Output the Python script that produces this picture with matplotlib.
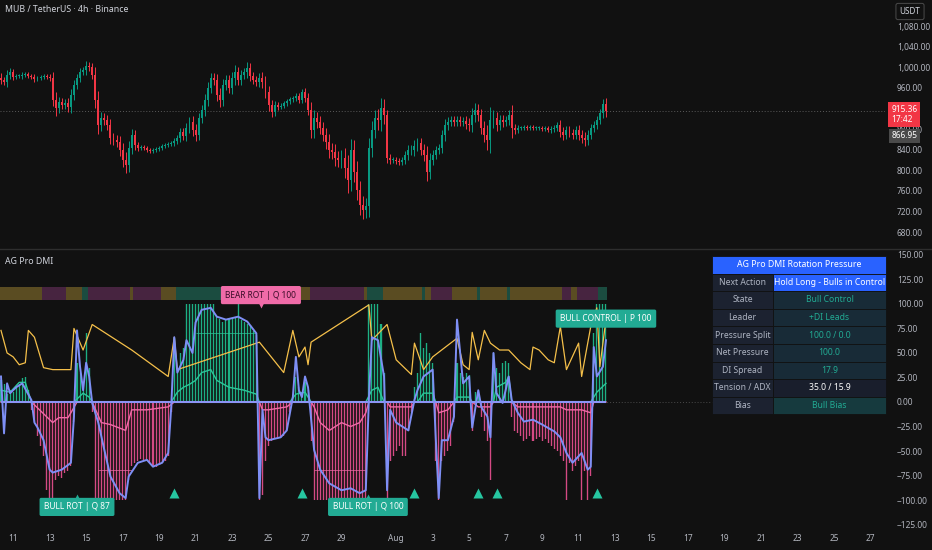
import matplotlib
matplotlib.use("Agg")
import matplotlib.pyplot as plt
from matplotlib.patches import Rectangle
import numpy as np

W, H = 932, 550
BG = '#111111'
UP, DN = '#089981', '#f23645'
TEAL = '#22ab94'
PINK = '#e8508f'

# ---- price pane data (4h closes, one per bar) ----
closes = [
    975, 971, 985, 991, 981, 983, 983, 985, 987, 983,
    981, 977, 979, 981, 983, 981, 979, 936, 921, 932,
    927, 930, 923, 946, 965, 979, 991, 995, 1002, 1000,
    985, 936, 888, 901, 897, 888, 862, 859, 855, 839,
    820, 810, 843, 868, 849, 843, 845, 843, 839, 837,
    839, 841, 843, 847, 849, 851, 853, 857, 862, 874,
    866, 882, 894, 878, 868, 901, 917, 936, 960, 979,
    975, 946, 936, 965, 975, 960, 979, 991, 975, 985,
    991, 998, 983, 975, 971, 979, 971, 952, 927, 913,
    927, 923, 925, 930, 934, 938, 940, 944, 936, 952,
    940, 917, 878, 901, 894, 882, 868, 855, 839, 835,
    824, 820, 824, 804, 781, 839, 797, 762, 732, 723,
    730, 843, 878, 901, 897, 921, 907, 824, 820, 820,
    818, 816, 820, 830, 839, 839, 847, 853, 839, 830,
    797, 820, 830, 839, 843, 868, 888, 894, 897, 894,
    897, 894, 896, 890, 888, 907, 917, 907, 882, 868,
    859, 897, 901, 888, 897, 894, 897, 907, 882, 878,
    882, 882, 884, 882, 884, 882, 882, 882, 880, 882,
    878, 880, 882, 888, 874, 868, 878, 872, 868, 878,
    868, 862, 859, 868, 882, 888, 897, 911, 929, 915.36,
]
first_open = 980
wicks = [
    8, 6, 10, 8, 5, 4, 4, 5, 4, 4,
    4, 5, 4, 4, 4, 4, 5, 12, 15, 10,
    8, 8, 10, 12, 10, 8, 8, 6, 10, 8,
    8, 15, 18, 12, 10, 10, 12, 10, 10, 12,
    14, 15, 14, 12, 10, 6, 4, 4, 4, 4,
    4, 4, 4, 4, 4, 4, 4, 5, 6, 8,
    8, 10, 10, 12, 12, 10, 10, 12, 12, 10,
    10, 12, 14, 12, 10, 10, 12, 14, 10, 10,
    8, 12, 10, 8, 8, 10, 12, 12, 12, 10,
    8, 6, 5, 5, 5, 5, 5, 5, 6, 6,
    8, 10, 15, 15, 12, 12, 12, 14, 15, 14,
    16, 14, 15, 20, 25, 22, 20, 20, 18, 18,
    16, 20, 18, 16, 18, 20, 18, 10, 8, 6,
    6, 6, 6, 8, 10, 10, 12, 10, 10, 12,
    18, 14, 10, 8, 8, 10, 12, 10, 8, 8,
    8, 8, 8, 10, 12, 14, 14, 12, 12, 14,
    20, 25, 15, 12, 10, 10, 8, 10, 20, 8,
    5, 4, 4, 4, 4, 4, 4, 4, 4, 4,
    4, 5, 5, 6, 10, 10, 8, 8, 8, 8,
    10, 10, 12, 10, 8, 8, 8, 8, 10, 12,
]
other_price = 866.95
# 920 sits under the live price tag, as on the reference
price_ticks = [680, 720, 760, 800, 840, 880, 960, 1000, 1040, 1080]

# ---- indicator data ----
hist = [
    22, 18, 8, 12, 10, 14, 18, 24, 25, 12,
    -8, -20, -35, -45, -55, -90, -100, -98, -80, -75,
    -78, -72, -70, -65, -20, 40, 30, 20, 70, 35,
    -10, -100, -100, -100, -100, -100, -100, -100, -100, -100,
    -100, -100, -80, -65, -62, -60, -58, -60, -58, -62,
    -65, -66, -64, -62, -60, -55, -10, 65, 35, 50,
    55, 100, 100, 100, 100, 100, 100, 100, 100, 100,
    100, 88, 85, 82, 84, 86, 86, 87, 100, 84,
    82, 80, 78, 72, 68, -100, -95, -60, -45, -40,
    -38, -38, -36, -35, -30, -10, 5, 25, 15, 10,
    20, 12, -40, -100, -100, -100, -100, -100, -100, -100,
    -100, -100, -100, -100, -100, -100, -100, -100, -100, -100,
    -100, 100, 100, 100, 100, 80, 30, -100, -60, -55,
    -50, -45, -55, -55, -30, -10, 15, 30, 70, 55,
    60, 50, 40, -60, -100, -60, -55, -50, -45, -20,
    40, 30, 25, 30, 28, -30, 10, 8, -15, -30,
    -40, -80, 50, 35, 30, 40, 42, 40, -15, -30,
    -32, -35, -40, -38, -35, -40, -38, -36, -40, -38,
    -42, -45, -48, -50, -55, -60, -100, -62, -70, -65,
    -60, -100, -70, -100, -75, 70, 100, 100, 100, 100,
]

blue_pts = [(0, 26), (1, -32), (2, 19), (3, 9), (5, 15), (7, 19), (10, 2), (11, -21), (12, -26),
            (14, -39), (16, -69), (17, -72), (20, -69), (23, -62), (24, -15), (25, 73), (26, 36),
            (27, 12), (28, 40), (29, 26), (30, -1), (32, -21), (34, -49), (36, -76), (39, -93),
            (41, -98), (42, -76), (45, -62), (48, -59), (50, -66), (53, -62), (55, -52), (56, -5),
            (57, 66), (58, 30), (60, 43), (61, 63), (63, 50), (64, 81), (66, 94), (69, 96), (71, 87),
            (74, 84), (78, 87), (81, 82), (84, 70), (85, -98), (86, -8), (87, -36), (88, -39),
            (92, -36), (94, -29), (96, 5), (97, 46), (98, 12), (99, 5), (100, 26), (101, 15),
            (103, -49), (105, -69), (108, -83), (112, -90), (115, -88), (118, -93), (120, -90),
            (121, 2), (122, 66), (124, 63), (126, 26), (127, -90), (128, -8), (130, -21), (134, -29),
            (136, 2), (137, 12), (139, 26), (142, 33), (143, -36), (144, -98), (145, -39), (147, -39),
            (149, -15), (150, 84), (152, 19), (154, 26), (155, -26), (157, 12), (158, -5), (160, -15),
            (161, -36), (162, 50), (163, 9), (165, -1), (166, 12), (167, 26), (168, 2), (170, -11),
            (172, -20), (175, -18), (178, -23), (182, -30), (184, -36), (186, -52), (188, -62),
            (191, -52), (193, -69), (194, -66), (195, 56), (196, 26), (198, 36), (199, 63)]

yellow_pts = [(0, 73), (2, 50), (4, 46), (6, 38), (8, 40), (9, 73), (11, 66), (14, 35), (17, 33),
              (23, 33), (24, 75), (27, 53), (30, 79), (43, 53), (55, 26), (57, 66), (58, 33), (85, 61),
              (93, 30), (96, 73), (98, 46), (100, 56), (101, 38), (102, 61), (121, 99), (122, 63),
              (127, 79), (130, 43), (135, 28), (136, 60), (139, 33), (142, 46), (150, 65), (152, 38),
              (154, 33), (155, 71), (157, 43), (159, 73), (161, 60), (164, 53), (167, 53), (171, 40),
              (174, 33), (175, 56), (177, 53), (180, 43), (182, 40), (184, 77), (186, 33), (190, 60),
              (191, 26), (194, 77), (196, 96), (197, 36), (199, 84)]

green_pts = [(0, 12), (3, 10), (6, 20), (8, 20), (9, 10), (10, 0), (24, 0), (27, 9), (29, 5), (30, 0),
             (56, 0), (58, 10), (60, 15), (62, 18), (64, 22), (66, 30), (69, 33), (71, 22), (75, 15),
             (80, 12), (84, 8), (85, 0), (95, 0), (97, 8), (100, 10), (102, 0), (120, 0), (122, 12),
             (124, 15), (126, 0), (137, 0), (139, 9), (142, 9), (143, 0), (149, 0), (150, 5), (154, 5),
             (155, 0), (162, 0), (163, 15), (166, 20), (167, 26), (168, 0), (194, 0), (196, 10), (199, 19)]

pink_pts = [(0, 0), (10, 0), (17, -21), (19, -16), (22, -16), (23, -11), (25, 0), (30, 0), (33, -21),
            (36, -23), (41, -29), (43, -8), (48, -8), (55, -5), (57, 0), (85, 0), (86, -8), (88, -8),
            (94, -5), (96, 0), (102, 0), (103, -5), (105, -21), (108, -29), (112, -21), (115, -25),
            (118, -21), (120, -11), (121, 0), (127, 0), (128, -5), (135, -5), (136, 0), (143, 0),
            (144, -11), (147, -8), (149, 0), (155, 0), (157, -5), (161, -5), (162, 0), (168, 0),
            (170, -5), (184, -5), (186, -8), (191, -8), (194, -11), (195, 0), (199, 0)]

# regime band: start bar of each segment and its state (n=neutral, b=bear, u=bull)
band_start = [0, 14, 22, 27, 29, 43, 44, 53, 58, 74, 102, 120, 121, 126, 139, 140, 142, 149,
              157, 158, 167, 168, 185, 188, 190, 197]
band_state = ['n', 'b', 'n', 'u', 'b', 'n', 'b', 'n', 'u', 'n', 'b', 'n', 'u', 'n', 'u', 'n', 'b', 'n',
              'u', 'n', 'u', 'n', 'b', 'n', 'b', 'u']
band_lo, band_hi = 104, 117

levels = [(32, 43, -69, 'b'), (103, 120, -69, 'b'), (64, 84, 70, 'u')]
triangle_bars = [57, 99, 136, 157, 163, 196]
triangle_val = -93

labels = [
    # text, bar, value, kind, pointer
    ('BEAR ROT | Q 100', 85.5, 109, 'b', 'down'),
    ('BULL ROT | Q 87', 25, -107, 'u', 'up'),
    ('BULL ROT | Q 100', 120.7, -107, 'u', 'up'),
    ('BULL CONTROL | P 100', 199, 85, 'u', None),
]

ind_ticks = [-125, -100, -75, -50, -25, 0, 25, 50, 75, 100, 125, 150]

tick_days = [0, 2, 4, 6, 8, 10, 12, 14, 16, 18, 21, 23, 25, 27, 29, 31, 33, 35, 37, 39, 41, 43, 45, 47]
tick_labels = ['11', '13', '15', '17', '19', '21', '23', '25', '27', '29', 'Aug', '3', '5', '7', '9',
               '11', '13', '15', '17', '19', '21', '23', '25', '27']

table_title = 'AG Pro DMI Rotation Pressure'
table_keys = ['Next Action', 'State', 'Leader', 'Pressure Split', 'Net Pressure', 'DI Spread',
              'Tension / ADX', 'Bias']
table_vals = ['Hold Long - Bulls in Control', 'Bull Control', '+DI Leads', '100.0 / 0.0', '100.0',
              '17.9', '35.0 / 15.9', 'Bull Bias']

# ---------------------------------------------------------------
plt.rcParams['font.family'] = ['Noto Sans', 'DejaVu Sans']
fig = plt.figure(figsize=(W / 100, H / 100), dpi=100, facecolor=BG)


def fx(px):
    return px / W


def fy(py):
    return 1 - py / H


PLOT_R = 885
ax_p = fig.add_axes([0, fy(248), fx(PLOT_R), 248 / H], facecolor=BG)
ax_i = fig.add_axes([0, fy(528), fx(PLOT_R), (528 - 249) / H], facecolor=BG)

n = len(closes)
x = np.arange(n)
first_bar_px, bar_px = 1.0, 3.04
xlim = (-first_bar_px / bar_px, (PLOT_R - first_bar_px) / bar_px)

for ax in (ax_p, ax_i):
    ax.set_xlim(*xlim)
    for s in ax.spines.values():
        s.set_visible(False)
    ax.yaxis.tick_right()
    ax.tick_params(axis='y', length=0, pad=8.6, labelsize=6, labelcolor='#b2b5be')
    ax.tick_params(axis='x', length=0)

# candles
c = np.array(closes, dtype=float)
o = np.concatenate([[first_open], c[:-1]])
wk = np.array(wicks, dtype=float)
hi = np.maximum(o, c) + wk
lo = np.minimum(o, c) - wk
col = np.where(c >= o, UP, DN)
ax_p.vlines(x, lo, hi, colors=col, lw=0.7, zorder=2)
ax_p.bar(x, np.maximum(np.abs(c - o), 1.2), bottom=np.minimum(o, c), width=0.62, color=col,
         lw=0, zorder=3)
ax_p.set_ylim(649, 1130.5)
ax_p.set_yticks(price_ticks)
ax_p.set_yticklabels([f'{v:,.2f}' for v in price_ticks])
ax_p.set_xticks([])
ax_p.axhline(closes[-1], color='#5a5a5a', ls=(0, (1, 2)), lw=0.7, zorder=1)

ytr = ax_p.get_yaxis_transform()
ax_p.text(1.007, other_price, f'{other_price:.2f}', transform=ytr, ha='left', va='center',
          fontsize=6, color='white', zorder=6, clip_on=False,
          bbox=dict(boxstyle='square,pad=0.3', fc='#4a4a4a', ec='none'))
ax_p.annotate(f'{closes[-1]:.2f}\n17:42', xy=(1.007, closes[-1]), xycoords=ytr, xytext=(0, 4.5),
              textcoords='offset points', ha='left', va='top', fontsize=6, color='white',
              linespacing=1.2, zorder=7, annotation_clip=False,
              bbox=dict(boxstyle='square,pad=0.35', fc='#f23645', ec='none'))

# indicator pane
band_col = {'n': '#5a4c22', 'b': '#472440', 'u': '#1b4c40'}
band_end = band_start[1:] + [n]
ax_i.bar(np.array(band_start) - 0.5, band_hi - band_lo, bottom=band_lo,
         width=np.array(band_end) - np.array(band_start), align='edge',
         color=[band_col[s] for s in band_state], lw=0, zorder=1)

hv = np.array(hist, dtype=float)
hcol = np.where(hv >= 0, '#1fbf8f', PINK)
ax_i.bar(x, hv, width=1.0, color=hcol, alpha=0.16, lw=0, zorder=2)
ax_i.bar(x, hv, width=0.34, color=hcol, alpha=0.9, lw=0, zorder=3)

level_col = {'b': '#f06aa8', 'u': '#2bc89a'}
for s0, s1, v, k in levels:
    ax_i.hlines(v, s0, s1, colors=level_col[k], lw=0.6, alpha=0.8, zorder=3)

ax_i.axhline(0, color='#4a4a4a', ls=(0, (1, 2)), lw=0.7, zorder=1)

gx, gy = zip(*green_pts)
ax_i.plot(gx, gy, color='#2bc89a', lw=1.0, zorder=4)
px_, py_ = zip(*pink_pts)
ax_i.plot(px_, py_, color='#f06aa8', lw=1.0, zorder=4)
ax_i.hlines(0, 0, n - 1, colors='#8c94f5', lw=1.5, zorder=5)
yx, yy = zip(*yellow_pts)
ax_i.plot(yx, yy, color='#f5c04a', lw=0.9, zorder=5)
bx, by = zip(*blue_pts)
ax_i.plot(bx, by, color='#7e8ff5', lw=1.4, zorder=6)

ax_i.plot(triangle_bars, [triangle_val] * len(triangle_bars), ls='none', marker='^',
          ms=6.5, color='#26c6a0', mec='none', zorder=7)

for txt, bar, val, kind, ptr in labels:
    fc = '#f06ba8' if kind == 'b' else TEAL
    tc = '#3a0c28' if kind == 'b' else 'white'
    ax_i.text(bar, val, txt, ha='center', va='center', fontsize=6, color=tc, zorder=9,
              bbox=dict(boxstyle='round,pad=0.55,rounding_size=0.2', fc=fc, ec='none'))
    if ptr == 'down':
        ax_i.plot(bar, val - 10, marker='v', ms=5, color=fc, mec='none', zorder=9)
    elif ptr == 'up':
        ax_i.plot(bar, val + 10, marker='^', ms=5, color=fc, mec='none', zorder=9)

ax_i.set_ylim(-128.5, 156)
ax_i.set_yticks(ind_ticks)
ax_i.set_yticklabels([f'{v:.2f}'.replace('-', '\u2212') for v in ind_ticks])
ax_i.set_xticks([4 + 6 * d for d in tick_days])
ax_i.set_xticklabels(tick_labels)
ax_i.tick_params(axis='x', pad=4, labelsize=6, labelcolor='#b2b5be')

# pane separator and titles
fig.add_artist(plt.Line2D([0, 1], [fy(248.5), fy(248.5)], color='#2e2e2e', lw=1.0))
fig.text(fx(5), fy(10), 'MUB / TetherUS \u00b7 4h \u00b7 Binance', fontsize=6.3, color='#d1d4dc',
         va='center', ha='left')
fig.text(fx(5), fy(261), 'AG Pro DMI', fontsize=6.3, color='#d1d4dc', va='center', ha='left')
fig.text(fx(910), fy(11.5), 'USDT', fontsize=5.8, color='#d1d4dc', va='center', ha='center',
         bbox=dict(boxstyle='round,pad=0.45,rounding_size=0.25', fc=BG, ec='#4a4a4a', lw=0.7))

# table
tx0, txm, tx1 = 712, 773, 886
head_top, head_bot = 256, 273.5
row_h = 17.6


def cell(x0, y0, x1, y1, color):
    fig.add_artist(Rectangle((fx(x0), fy(y1)), fx(x1) - fx(x0), (y1 - y0) / H,
                             transform=fig.transFigure, fc=color, ec=BG, lw=0.6, zorder=20))


cell(tx0, head_top, tx1, head_bot, '#2962ff')
fig.text(fx((tx0 + tx1) / 2), fy((head_top + head_bot) / 2), table_title, ha='center', va='center',
         fontsize=6.3, color='white', zorder=21)
val_bg = ['#2962ff', '#182b37', '#182b37', '#182b37', '#182b37', '#182b37', '#191e2c', '#163a3e']
val_fc = ['white', TEAL, TEAL, TEAL, TEAL, TEAL, 'white', TEAL]
val_wt = ['bold', 'normal', 'normal', 'normal', 'normal', 'normal', 'bold', 'normal']
for k, (key, val) in enumerate(zip(table_keys, table_vals)):
    y0 = head_bot + k * row_h
    y1 = y0 + row_h
    cell(tx0, y0, txm, y1, '#1c2230')
    cell(txm, y0, tx1, y1, val_bg[k])
    fig.text(fx((tx0 + txm) / 2), fy((y0 + y1) / 2), key, ha='center', va='center', fontsize=6.2,
             color='#aeb4c2', zorder=21)
    fig.text(fx((txm + tx1) / 2), fy((y0 + y1) / 2), val, ha='center', va='center', fontsize=6.2,
             color=val_fc[k], fontweight=val_wt[k], zorder=21)

fig.savefig('out.png', dpi=100, facecolor=BG)
